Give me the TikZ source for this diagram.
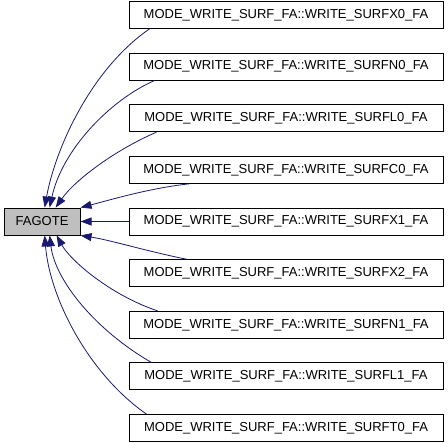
\documentclass[tikz,border=0pt]{standalone}
\usepackage{fontspec}
\setmainfont{Liberation Sans}
\usepackage{xcolor}
\usepackage{tikz}
\usetikzlibrary{arrows.meta, positioning}
\definecolor{edgecolor}{RGB}{25, 25, 112}
\definecolor{focusfill}{RGB}{191, 191, 191}

\begin{document}
\begin{tikzpicture}[
    x=1pt, y=1pt,
    node distance = 23.75pt and 48pt,
    font=\fontsize{13}{15}\selectfont,
    % Define styles
    func/.style = {rectangle, draw=black, fill=white, minimum width=314pt, minimum height=27pt, inner sep=2pt, line width=0.9pt},
    focus/.style = {rectangle, draw=black, fill=focusfill, minimum width=76pt, minimum height=27pt, inner sep=2pt, line width=0.9pt},
    calledge/.style = {line width=0.8pt, draw=edgecolor, -{Triangle[length=11pt, width=8pt]}}
]
\useasboundingbox (0,0) rectangle (448,-443);

% Nodes
\node [func] at (286,-221.5) (surfx1) {MODE\_WRITE\_SURF\_FA::WRITE\_SURFX1\_FA};
\node [func, above=of surfx1] (surfc0) {MODE\_WRITE\_SURF\_FA::WRITE\_SURFC0\_FA};
\node [func, above=of surfc0] (surfl0) {MODE\_WRITE\_SURF\_FA::WRITE\_SURFL0\_FA};
\node [func, above=of surfl0] (surfn0) {MODE\_WRITE\_SURF\_FA::WRITE\_SURFN0\_FA};
\node [func, above=of surfn0] (surfx0) {MODE\_WRITE\_SURF\_FA::WRITE\_SURFX0\_FA};
\node [func, below=of surfx1] (surfx2) {MODE\_WRITE\_SURF\_FA::WRITE\_SURFX2\_FA};
\node [func, below=of surfx2] (surfn1) {MODE\_WRITE\_SURF\_FA::WRITE\_SURFN1\_FA};
\node [func, below=of surfn1] (surfl1) {MODE\_WRITE\_SURF\_FA::WRITE\_SURFL1\_FA};
\node [func, below=of surfl1] (surft0) {MODE\_WRITE\_SURF\_FA::WRITE\_SURFT0\_FA};
\node [focus, left=of surfx1] (fagote) {FAGOTE};

% Arrows
\draw [calledge] ([xshift=21pt]surfx0.south west) .. controls (90,-70) and (55,-150) .. ([xshift=41pt]fagote.north west);
\draw [calledge] ([xshift=26pt]surfn0.south west) .. controls (110,-100) and (62,-150) .. ([xshift=46pt]fagote.north west);
\draw [calledge] ([xshift=28pt]surfl0.south west) .. controls (115,-150) and (75,-180) .. ([xshift=52pt]fagote.north west);
\draw [calledge] ([xshift=61pt]surfc0.south west) .. controls (150,-188) and (110,-200) .. (fagote.north east);
\draw [calledge] (surfx1) -- (fagote);
\draw [calledge] ([xshift=58pt]surfx2.north west) .. controls (150,-252) and (110,-240) .. (fagote.south east);
\draw [calledge] ([xshift=29pt]surfn1.north west) .. controls (110,-295) and (70,-260) .. ([xshift=53pt]fagote.south west);
\draw [calledge] ([xshift=23pt]surfl1.north west) .. controls (95,-330) and (55,-280) .. ([xshift=46pt]fagote.south west);
\draw [calledge] ([xshift=18pt]surft0.north west) .. controls (90,-375) and (50,-300) .. ([xshift=41pt]fagote.south west);

\end{tikzpicture}
\end{document}
